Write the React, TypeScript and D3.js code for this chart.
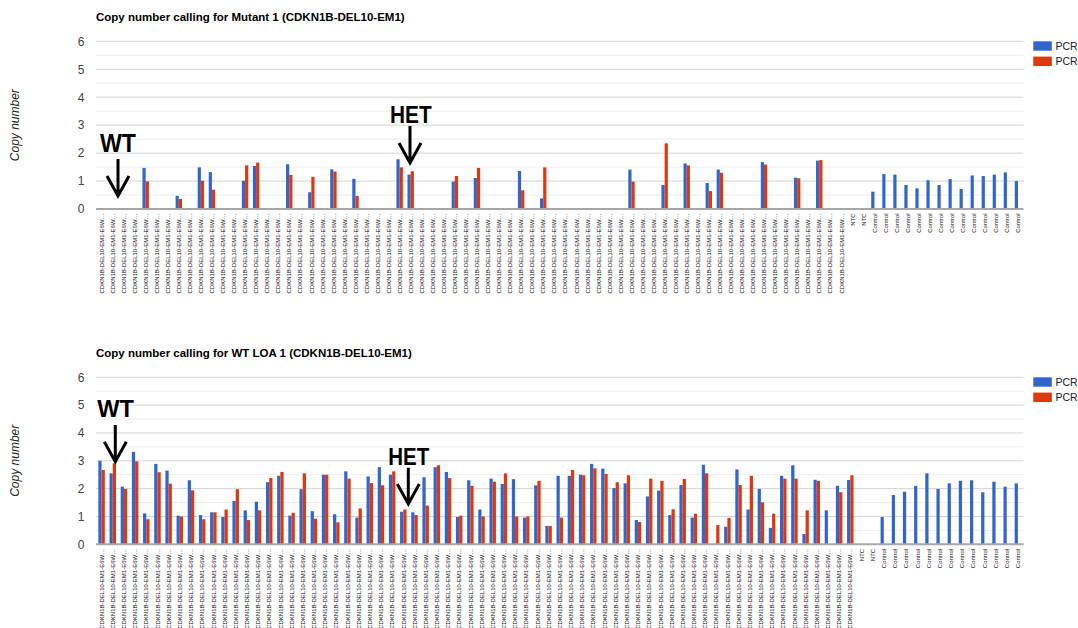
import React from "react";
import * as d3 from "d3";

// ---------- data ----------
const SAMPLE_LABEL = "CDKN1B-DEL10-EM1-E6W…";
const seriesNames = ["PCR1", "PCR2"];
const yTicks = [0, 1, 2, 3, 4, 5, 6];
const yMinorTicks = [0.5, 1.5, 2.5, 3.5, 4.5, 5.5];

const mutantCategories: string[] = [
  ...Array(68).fill(SAMPLE_LABEL),
  "NTC",
  "NTC",
  ...Array(14).fill("Control"),
];
const mutantPCR1 = [
  0, 0, 0, 0, 1.47, 0, 0, 0.47, 0, 1.49,
  1.32, 0, 0, 1.01, 1.54, 0, 0, 1.6, 0, 0.6,
  0, 1.42, 0, 1.08, 0, 0, 0, 1.78, 1.23, 0,
  0, 0, 0.98, 0, 1.11, 0, 0, 0, 1.36, 0,
  0.38, 0, 0, 0, 0, 0, 0, 0, 1.41, 0,
  0, 0.86, 0, 1.63, 0, 0.93, 1.41, 0, 0, 0,
  1.68, 0, 0, 1.12, 0, 1.73, 0, 0, 0, 0,
  0.62, 1.25, 1.23, 0.86, 0.74, 1.03, 0.86, 1.07, 0.72, 1.2, 1.18, 1.23, 1.31, 1.0,
];
const mutantPCR2 = [
  0, 0, 0, 0, 0.99, 0, 0, 0.36, 0, 1.01,
  0.69, 0, 0, 1.56, 1.66, 0, 0, 1.22, 0, 1.15,
  0, 1.34, 0, 0.47, 0, 0, 0, 1.49, 1.35, 0,
  0, 0, 1.18, 0, 1.47, 0, 0, 0, 0.67, 0,
  1.49, 0, 0, 0, 0, 0, 0, 0, 0.98, 0,
  0, 2.35, 0, 1.56, 0, 0.64, 1.3, 0, 0, 0,
  1.59, 0, 0, 1.1, 0, 1.75, 0, 0, 0, 0,
  0, 0, 0, 0, 0, 0, 0, 0, 0, 0, 0, 0, 0, 0,
];

const wtCategories: string[] = [
  ...Array(68).fill(SAMPLE_LABEL),
  "NTC",
  "NTC",
  ...Array(13).fill("Control"),
];
const wtPCR1 = [
  3.0, 2.55, 2.07, 3.32, 1.11, 2.89, 2.65, 1.03, 2.3, 1.05,
  1.15, 0.98, 1.56, 1.22, 1.53, 2.23, 2.46, 1.03, 1.98, 1.19,
  2.5, 1.08, 2.62, 0.96, 2.44, 2.77, 2.5, 1.17, 1.15, 2.41,
  2.77, 2.6, 0.98, 2.3, 1.25, 2.36, 2.17, 2.34, 0.96, 2.12,
  0.66, 2.46, 2.46, 2.5, 2.89, 2.72, 2.02, 2.19, 0.87, 1.72,
  1.93, 1.05, 2.13, 0.96, 2.86, 0, 0.63, 2.69, 1.25, 1.99,
  0.59, 2.46, 2.84, 0.37, 2.32, 1.22, 2.1, 2.31, 0, 0,
  0.98, 1.77, 1.89, 2.1, 2.55, 1.99, 2.19, 2.28, 2.3, 1.87, 2.25, 2.07, 2.19,
];
const wtPCR2 = [
  2.67, 2.91, 1.99, 2.98, 0.9, 2.59, 2.18, 1.0, 1.94, 0.9,
  1.15, 1.25, 1.98, 0.87, 1.22, 2.38, 2.6, 1.13, 2.55, 0.92,
  2.5, 0.79, 2.36, 1.29, 2.2, 2.12, 2.62, 1.25, 1.05, 1.39,
  2.84, 2.38, 1.03, 2.1, 1.0, 2.25, 2.55, 1.0, 1.0, 2.28,
  0.66, 0.96, 2.67, 2.48, 2.73, 2.53, 2.23, 2.48, 0.8, 2.36,
  2.28, 1.26, 2.35, 1.1, 2.55, 0.69, 0.95, 2.13, 2.46, 1.51,
  1.1, 2.36, 2.36, 1.22, 2.28, 0, 1.87, 2.48, 0, 0,
  0, 0, 0, 0, 0, 0, 0, 0, 0, 0, 0, 0, 0,
];

// ---------- styles ----------
const FONT = "Arial, 'Liberation Sans', sans-serif";
const COLORS = ["#3366cc", "#dc3912"];

type Annotation = { text: string; tx: number; ty: number; tw: number; fs: number; ax: number; a0: number; a1: number; hw: number; hh: number };

type PanelProps = {
  title: string;
  titleY: number;
  y0: number;
  y6: number;
  categories: string[];
  series: number[][];
  annotations: Annotation[];
};

function Panel({ title, titleY, y0, y6, categories, series, annotations }: PanelProps) {
  const left = 96;
  const right = 1023.5;
  const x = d3
    .scaleBand<number>()
    .domain(categories.map((_, i) => i))
    .range([left, right])
    .padding(0);
  const bw = x.bandwidth();
  const xs = d3
    .scaleBand<string>()
    .domain(seriesNames)
    .range([bw * 0.21, bw * 0.79])
    .padding(0);
  const y = d3.scaleLinear().domain([0, 6]).range([y0, y6]);

  return (
    <g>
      <text x={left} y={titleY} fontFamily={FONT} fontSize={11.5} fontWeight="bold" fill="#000">
        {title}
      </text>
      {/* minor gridlines */}
      {yMinorTicks.map((t) => (
        <line key={"m" + t} x1={left} x2={right} y1={y(t)} y2={y(t)} stroke="#eeeeee" strokeWidth={1} />
      ))}
      {yTicks.slice(1).map((t) => (
        <line key={"g" + t} x1={left} x2={right} y1={y(t)} y2={y(t)} stroke="#d4d4d4" strokeWidth={1} />
      ))}
      {yTicks.map((t) => (
        <text
          key={"yt" + t}
          x={84.5}
          y={y(t)}
          dy="0.36em"
          textAnchor="end"
          fontFamily={FONT}
          fontSize={12}
          fill="#444"
        >
          {t}
        </text>
      ))}
      <text
        transform={`translate(18.5,${(y0 + y6) / 2}) rotate(-90)`}
        textAnchor="middle"
        fontFamily={FONT}
        fontSize={12}
        fontStyle="italic"
        fill="#222"
      >
        Copy number
      </text>
      {/* bars */}
      {categories.map((_, i) =>
        series.map((vals, s) => {
          const v = vals[i];
          if (!v) return null;
          return (
            <rect
              key={`b${i}-${s}`}
              x={(x(i) as number) + (xs(seriesNames[s]) as number)}
              y={y(v)}
              width={xs.bandwidth()}
              height={y(0) - y(v)}
              fill={COLORS[s]}
            />
          );
        })
      )}
      {/* baseline */}
      <line x1={left} x2={right} y1={y(0)} y2={y(0)} stroke="#a8a8a8" strokeWidth={2} />
      {/* x labels */}
      {categories.map((c, i) => {
        const cx = (x(i) as number) + bw / 2;
        return (
          <text
            key={"xl" + i}
            transform={`translate(${cx + 2.2},${y0 + 4.5}) rotate(-90)`}
            textAnchor="end"
            fontFamily={FONT}
            fontSize={6}
            fill="#111"
          >
            {c}
          </text>
        );
      })}
      {/* legend */}
      {seriesNames.map((s, k) => (
        <g key={"lg" + s}>
          <rect x={1033.3} y={y6 + k * 15.3} width={18.5} height={9.4} fill={COLORS[k]} />
          <text x={1055.5} y={y6 + k * 15.3 + 8.6} fontFamily={FONT} fontSize={10.5} fill="#222">
            {s}
          </text>
        </g>
      ))}
      {/* annotations */}
      {annotations.map((a, k) => (
        <g key={"an" + k}>
          <text
            x={a.tx}
            y={a.ty}
            fontFamily={FONT}
            fontWeight="bold"
            fontSize={a.fs}
            textLength={a.tw}
            lengthAdjust="spacingAndGlyphs"
            fill="#000"
          >
            {a.text}
          </text>
          <path
            d={`M${a.ax},${a.a0}L${a.ax},${a.a1 - 1}M${a.ax - a.hw},${a.a1 - a.hh}L${a.ax},${a.a1}L${a.ax + a.hw},${a.a1 - a.hh}`}
            fill="none"
            stroke="#000"
            strokeWidth={3}
            strokeLinejoin="miter"
          />
        </g>
      ))}
    </g>
  );
}

export default function App() {
  return (
    <div style={{ position: "absolute", left: 0, top: 0 }}>
      <svg width={1078} height={628} style={{ display: "block", background: "#fff" }}>
        <Panel
          title="Copy number calling for Mutant 1 (CDKN1B-DEL10-EM1)"
          titleY={20.5}
          y0={209}
          y6={41.3}
          categories={mutantCategories}
          series={[mutantPCR1, mutantPCR2]}
          annotations={[
            { text: "WT", tx: 100, ty: 151.7, tw: 36, fs: 25, ax: 118, a0: 159, a1: 196, hw: 11, hh: 20 },
            { text: "HET", tx: 390, ty: 122.7, tw: 41.7, fs: 23, ax: 410, a0: 126, a1: 163, hw: 11, hh: 20 },
          ]}
        />
        <Panel
          title="Copy number calling for WT LOA 1 (CDKN1B-DEL10-EM1)"
          titleY={357}
          y0={544.3}
          y6={377.3}
          categories={wtCategories}
          series={[wtPCR1, wtPCR2]}
          annotations={[
            { text: "WT", tx: 97.3, ty: 417.3, tw: 36.7, fs: 24, ax: 115.3, a0: 425, a1: 461.7, hw: 11, hh: 20 },
            { text: "HET", tx: 388.3, ty: 465, tw: 41, fs: 23, ax: 408.3, a0: 467.7, a1: 504, hw: 11, hh: 20 },
          ]}
        />
      </svg>
    </div>
  );
}
